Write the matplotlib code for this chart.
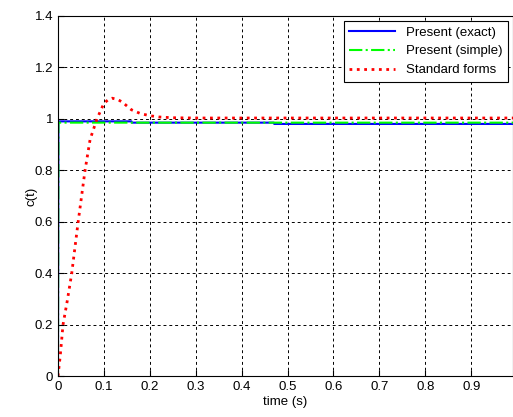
import numpy as np
import matplotlib
matplotlib.use('Agg')
import matplotlib.pyplot as plt

plt.rcParams['font.family'] = ['Liberation Sans', 'DejaVu Sans']

# Present (exact) response
t_exact = [0, 0.001, 0.16, 0.161, 0.47, 0.471, 1.0]
c_exact = [0, 0.99, 0.99, 0.985, 0.985, 0.98, 0.98]

# Present (simple) response
t_simple = [0, 0.001, 1.0]
c_simple = [0, 0.985, 0.985]

# Standard forms response
t_std = [0, 0.005, 0.011, 0.02, 0.03, 0.044, 0.059, 0.07, 0.085, 0.1, 0.11,
         0.118, 0.13, 0.14, 0.15, 0.16, 0.18, 0.2, 0.22, 0.25, 0.3, 1.0]
c_std = [0, 0.08, 0.2, 0.29, 0.4, 0.6, 0.8, 0.92, 1.0, 1.06, 1.075,
         1.08, 1.075, 1.065, 1.05, 1.035, 1.02, 1.012, 1.007, 1.004, 1.003, 1.003]

xticks = [0, 0.1, 0.2, 0.3, 0.4, 0.5, 0.6, 0.7, 0.8, 0.9]
yticks = [0, 0.2, 0.4, 0.6, 0.8, 1, 1.2, 1.4]

fig = plt.figure(figsize=(5.13, 4.17), dpi=100)
ax = fig.add_axes([0.113, 0.098, 0.887, 0.864])

ax.plot(t_exact, c_exact, color='#0000ff', lw=1.5, label='Present (exact)')
ax.plot(t_simple, c_simple, color='#00ff00', lw=1.5, linestyle='-.', label='Present (simple)')
ax.plot(t_std, c_std, color='#ff0000', lw=2.0, linestyle=':', label='Standard forms')

ax.set_xlim(0, 0.991)
ax.set_ylim(0, 1.4)
ax.set_xticks(xticks)
ax.set_xticklabels(['0'] + [f'{v:g}' for v in xticks[1:]])
ax.set_yticks(yticks)
ax.set_yticklabels(['0', '0.2', '0.4', '0.6', '0.8', '1', '1.2', '1.4'])
ax.tick_params(direction='in', labelsize=9.5, length=4)
ax.grid(True, color='black', linestyle=(0, (3, 3)), lw=0.7)
ax.set_xlabel('time (s)', fontsize=9.5, labelpad=2)
ax.set_ylabel('c(t)', fontsize=9.5, labelpad=-2)

leg = ax.legend(loc='upper right', fontsize=9.5, fancybox=False, framealpha=1,
                edgecolor='black', borderaxespad=0.4, handlelength=3.5)
leg.get_frame().set_linewidth(0.8)

fig.savefig('out.png', dpi=100)
